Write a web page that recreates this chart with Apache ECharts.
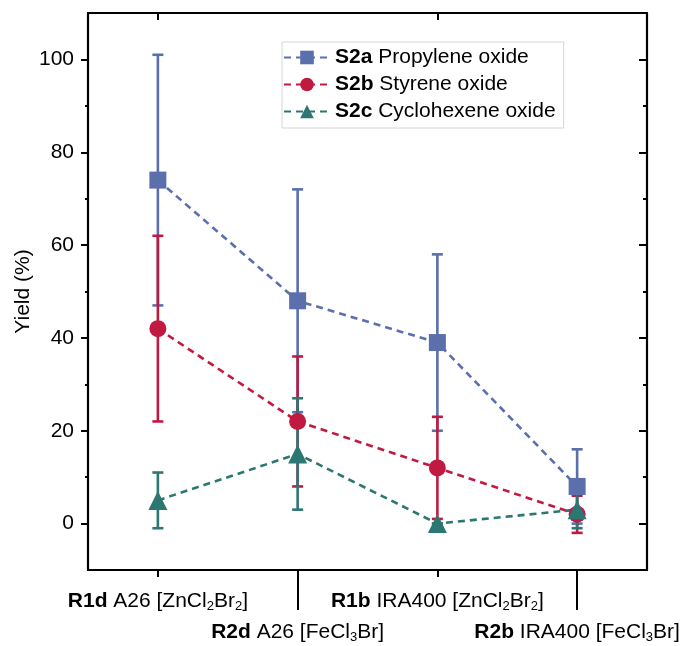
<!DOCTYPE html>
<html>
<head>
<meta charset="utf-8">
<script src="https://cdn.jsdelivr.net/npm/echarts@6/dist/echarts.min.js"></script>
<style>
  html, body { margin: 0; padding: 0; background: #fff; }
  #chart { width: 685px; height: 646px; }
</style>
</head>
<body>
<div id="chart"></div>
<script>
// Catalyst systems on the x axis (code shown in bold, subscripts via rich text)
const catalystCodes = ['R1d', 'R2d', 'R1b', 'R2b'];
const catalystNames = ['A26 [ZnCl{s|2}Br{s|2}]', 'A26 [FeCl{s|3}Br]', 'IRA400 [ZnCl{s|2}Br{s|2}]', 'IRA400 [FeCl{s|3}Br]'];

// Epoxide substrates
const substrateCodes = ['S2a', 'S2b', 'S2c'];
const substrateNames = ['Propylene oxide', 'Styrene oxide', 'Cyclohexene oxide'];

// Yields (%) and their error bars (±)
const propyleneYield = [74, 48, 39, 8];
const propyleneErr   = [27, 24, 19, 8];
const styreneYield   = [42, 22, 12, 2];
const styreneErr     = [20, 14, 11, 4];
const cycloYield     = [5, 15, 0, 3];
const cycloErr       = [6, 12, 0, 4];

// Y axis ticks
const yMajorTicks = [0, 20, 40, 60, 80, 100];
const yMinorTicks = [10, 30, 50, 70, 90];

const colors = ['#5b6fad', '#c01a41', '#2c7772'];
const symbols = ['rect', 'circle', 'triangle'];
const symbolSizes = [17, 17, 19];
const yields = [propyleneYield, styreneYield, cycloYield];
const errs = [propyleneErr, styreneErr, cycloErr];

const FONT = '"Liberation Sans", Arial, Helvetica, sans-serif';
const seriesNames = substrateCodes.map((c, i) => c + ' ' + substrateNames[i]);
const categories = catalystCodes.map((c, i) => '{b|' + c + '} ' + catalystNames[i]);

const labelRich = {
  b: { fontWeight: 'bold', fontSize: 21, fontFamily: FONT, color: '#000' },
  s: { fontSize: 13, fontFamily: FONT, color: '#000', padding: [10, 0, 0, 0], lineHeight: 12 }
};

const errorSeries = yields.map((vals, si) => ({
  type: 'custom',
  name: seriesNames[si] + ' error',
  z: 2,
  xAxisIndex: 0,
  yAxisIndex: 0,
  data: vals.map((v, i) => [i, v - errs[si][i], v + errs[si][i]]),
  encode: { x: 0, y: [1, 2] },
  renderItem: function (params, api) {
    const lo = api.coord([api.value(0), api.value(1)]);
    const hi = api.coord([api.value(0), api.value(2)]);
    const cap = 5.5;
    const style = { stroke: colors[si], lineWidth: 2.6, fill: null };
    return {
      type: 'group',
      children: [
        { type: 'line', shape: { x1: lo[0], y1: lo[1], x2: hi[0], y2: hi[1] }, style: style },
        { type: 'line', shape: { x1: lo[0] - cap, y1: lo[1], x2: lo[0] + cap, y2: lo[1] }, style: style },
        { type: 'line', shape: { x1: hi[0] - cap, y1: hi[1], x2: hi[0] + cap, y2: hi[1] }, style: style }
      ]
    };
  },
  silent: true
}));

const lineSeries = yields.map((vals, si) => ({
  type: 'line',
  name: seriesNames[si],
  z: 3,
  xAxisIndex: 0,
  yAxisIndex: 0,
  data: vals,
  symbol: symbols[si],
  symbolSize: symbolSizes[si],
  itemStyle: { color: colors[si] },
  lineStyle: { color: colors[si], width: 2.6, type: [7, 5] },
  emphasis: { disabled: true },
  animation: false
}));

const axisLineStyle = { show: true, onZero: false, lineStyle: { color: '#000', width: 2.2 } };

const chart = echarts.init(document.getElementById('chart'), null, { renderer: 'canvas' });
chart.setOption({
  animation: false,
  backgroundColor: '#fff',
  textStyle: { fontFamily: FONT },
  grid: { left: 88, right: 38, top: 13, bottom: 76, containLabel: false, outerBoundsMode: 'none' },
  legend: {
    data: seriesNames,
    orient: 'vertical',
    left: 282,
    top: 42,
    padding: [5, 8, 6, 1],
    itemGap: 6,
    itemWidth: 46,
    itemHeight: 17,
    borderColor: '#d6d6d6',
    borderWidth: 1,
    backgroundColor: '#fff',
    selectedMode: false,
    formatter: function (name) {
      const i = seriesNames.indexOf(name);
      return '{b|' + substrateCodes[i] + '} ' + substrateNames[i];
    },
    textStyle: {
      fontSize: 21, color: '#000', fontFamily: FONT, lineHeight: 21,
      rich: { b: { fontWeight: 'bold', fontSize: 21, color: '#000', fontFamily: FONT, lineHeight: 21 } }
    }
  },
  xAxis: [
    {
      type: 'category',
      position: 'bottom',
      data: categories,
      boundaryGap: true,
      axisLine: axisLineStyle,
      axisTick: { show: true, alignWithLabel: true, length: 7, lineStyle: { color: '#000', width: 2 } },
      axisLabel: {
        interval: function (i) { return i % 2 === 0; },
        margin: 21,
        fontSize: 21, color: '#000', fontFamily: FONT,
        rich: labelRich
      },
      splitLine: { show: false }
    },
    {
      type: 'category',
      position: 'bottom',
      data: categories,
      boundaryGap: true,
      axisLine: { show: false, onZero: false },
      axisTick: {
        show: true, alignWithLabel: true, length: 40,
        interval: function (i) { return i % 2 === 1; },
        lineStyle: { color: '#000', width: 2 }
      },
      axisLabel: {
        interval: function (i) { return i % 2 === 1; },
        margin: 52,
        fontSize: 21, color: '#000', fontFamily: FONT,
        rich: labelRich
      },
      splitLine: { show: false }
    },
    {
      type: 'category',
      position: 'top',
      data: categories,
      boundaryGap: true,
      axisLine: axisLineStyle,
      axisTick: { show: true, inside: true, alignWithLabel: true, length: 7, lineStyle: { color: '#000', width: 2 } },
      axisLabel: { show: false },
      splitLine: { show: false }
    }
  ],
  yAxis: [
    {
      type: 'value',
      position: 'left',
      min: -10,
      max: 110,
      name: 'Yield (%)',
      nameLocation: 'middle',
      nameRotate: 90,
      nameGap: 54,
      nameMoveOverlap: false,
      nameTextStyle: { fontSize: 21, color: '#000', fontFamily: FONT },
      axisLine: axisLineStyle,
      axisTick: { show: true, length: 7, customValues: yMajorTicks, lineStyle: { color: '#000', width: 2 } },
      axisLabel: { customValues: yMajorTicks, margin: 14, fontSize: 21, color: '#000', fontFamily: FONT },
      splitLine: { show: false }
    },
    {
      type: 'value',
      position: 'left',
      min: -10,
      max: 110,
      axisLine: { show: false, onZero: false },
      axisTick: { show: true, length: 3, customValues: yMinorTicks, lineStyle: { color: '#000', width: 2 } },
      axisLabel: { show: false },
      splitLine: { show: false }
    },
    {
      type: 'value',
      position: 'right',
      min: -10,
      max: 110,
      axisLine: axisLineStyle,
      axisTick: { show: true, inside: true, length: 8, customValues: yMajorTicks, lineStyle: { color: '#000', width: 2 } },
      axisLabel: { show: false },
      splitLine: { show: false }
    },
    {
      type: 'value',
      position: 'right',
      min: -10,
      max: 110,
      axisLine: { show: false, onZero: false },
      axisTick: { show: true, inside: true, length: 4, customValues: yMinorTicks, lineStyle: { color: '#000', width: 2 } },
      axisLabel: { show: false },
      splitLine: { show: false }
    }
  ],
  series: errorSeries.concat(lineSeries)
});
</script>
</body>
</html>
